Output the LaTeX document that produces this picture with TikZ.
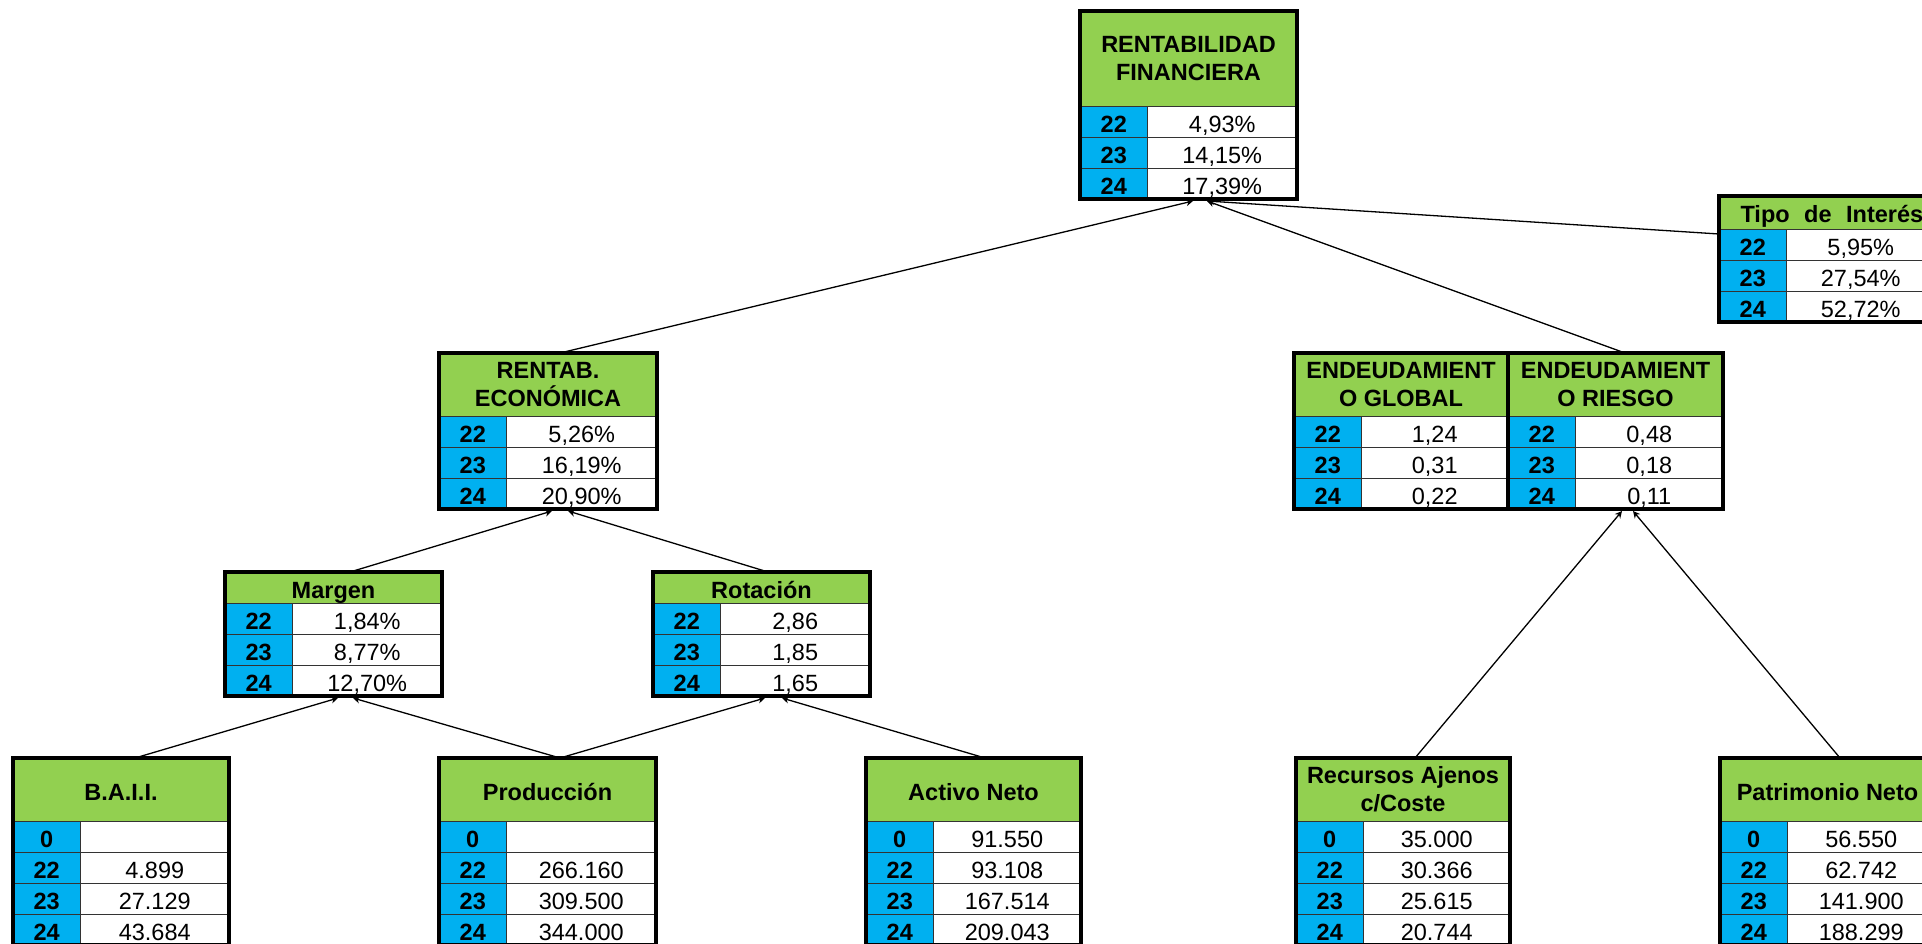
\documentclass[tikz,border=0pt]{standalone}
\usepackage{fontspec}
\setmainfont{Liberation Sans}
\usetikzlibrary{arrows.meta,calc}
\definecolor{hgreen}{RGB}{146,208,80}
\definecolor{lblue}{RGB}{0,176,240}
\tikzset{
  cell/.style={rectangle, inner sep=0pt, outer sep=0pt, draw=black!80, line width=1pt, font=\fontsize{23.5}{28}\selectfont},
  hdr/.style={cell, fill=hgreen, font=\bfseries\fontsize{23.5}{28}\selectfont, align=center},
  lab/.style={cell, fill=lblue, font=\bfseries\fontsize{23.5}{28}\selectfont, text height=22pt, text depth=0pt},
  val/.style={cell, fill=white, text height=22pt, text depth=0pt},
  one/.style={text height=22pt, text depth=0pt},
  boxframe/.style={rectangle, inner sep=0pt, outer sep=0pt, draw=black, line width=4.5pt},
  link/.style={draw=black, line width=1.3pt, -{Stealth[length=7pt,width=7pt]}},
}
% name, x, top, width, header height, header opts, header text, rows, number of rows
\newcommand{\tbox}[9]{%
  \node[hdr,#6,minimum width=#4,minimum height=#5,anchor=north west] (#1-h) at (#2,#3) {#7};
  \foreach \rlab/\rval [count=\i] in {#8} {
    \node[lab,minimum width=67.5,minimum height=31,anchor=north west] (#1-l\i) at (#2,{#3+#5+(\i-1)*31}) {\rlab};
    \node[val,minimum width={#4-67.5},minimum height=31,anchor=north west] (#1-v\i) at ({#2+67.5},{#3+#5+(\i-1)*31}) {\rval};
  }
  \node[boxframe,minimum width=#4,minimum height={#5+#9*31},anchor=north west] (#1) at (#2,#3) {};
}
\begin{document}
\begin{tikzpicture}[x=1pt,y=-1pt]
\useasboundingbox (0,0) rectangle (1922,943);
\fill[white] (0,0) rectangle (1922,943);

\tbox{rf}{1080}{11}{217}{95}{}{RENTABILIDAD\\FINANCIERA}{22/{4,93\%},23/{14,15\%},24/{17,39\%}}{3}
\tbox{tipo}{1719}{196}{216}{33}{one}{}{22/{5,95\%},23/{27,54\%},24/{52,72\%}}{3}
\node[anchor=base west, font=\bfseries\fontsize{23.5}{28}\selectfont] (tipo-t) at (1737,222) {Tipo\hspace{14.5pt}de\hspace{14.5pt}Interés};
\tbox{re}{439}{353}{218}{63}{}{RENTAB.\\ECONÓMICA}{22/{5,26\%},23/{16,19\%},24/{20,90\%}}{3}
\tbox{eg}{1294}{353}{214}{63}{}{ENDEUDAMIENT\\O GLOBAL}{22/{1,24},23/{0,31},24/{0,22}}{3}
\tbox{er}{1508}{353}{215}{63}{}{ENDEUDAMIENT\\O RIESGO}{22/{0,48},23/{0,18},24/{0,11}}{3}
\tbox{mg}{225}{572}{217}{31}{one}{Margen}{22/{1,84\%},23/{8,77\%},24/{12,70\%}}{3}
\tbox{rot}{653}{572}{217}{31}{one}{Rotación}{22/{2,86},23/{1,85},24/{1,65}}{3}
\tbox{baii}{13}{758}{216}{63}{one}{B.A.I.I.}{0/{},22/{4.899},23/{27.129},24/{43.684}}{4}
\tbox{prod}{439}{758}{217}{63}{one}{Producción}{0/{},22/{266.160},23/{309.500},24/{344.000}}{4}
\tbox{an}{866}{758}{215}{63}{one}{Activo Neto}{0/{91.550},22/{93.108},23/{167.514},24/{209.043}}{4}
\tbox{ra}{1296}{758}{214}{63}{}{Recursos Ajenos\\c/Coste}{0/{35.000},22/{30.366},23/{25.615},24/{20.744}}{4}
\tbox{pn}{1720}{758}{215}{63}{one}{Patrimonio Neto}{0/{56.550},22/{62.742},23/{141.900},24/{188.299}}{4}

\draw[link] ($(re.north)+(12,0)$) -- ($(rf.south)+(4.5,2)$);
\draw[link] ($(er.north)+(9.5,0)$) -- ($(rf.south)+(18.5,2)$);
\draw[link] ($(tipo.west)+(0,-25)$) -- ($(rf.south)+(18.5,2)$);
\draw[link] ($(mg.north)+(16.5,0)$) -- ($(re.south)+(4,2)$);
\draw[link] ($(rot.north)+(6.5,0)$) -- ($(re.south)+(20,2)$);
\draw[link] ($(baii.north)+(14,0)$) -- ($(mg.south)+(4.5,2)$);
\draw[link] ($(prod.north)+(12.5,0)$) -- ($(mg.south)+(19.5,2)$);
\draw[link] ($(prod.north)+(12.5,0)$) -- ($(rot.south)+(3.5,2)$);
\draw[link] ($(an.north)+(11.5,0)$) -- ($(rot.south)+(20.5,2)$);
\draw[link] ($(ra.north)+(12,0)$) -- ($(er.south)+(6.5,2)$);
\draw[link] ($(pn.north)+(12.5,0)$) -- ($(er.south)+(17.5,2)$);
\end{tikzpicture}
\end{document}
